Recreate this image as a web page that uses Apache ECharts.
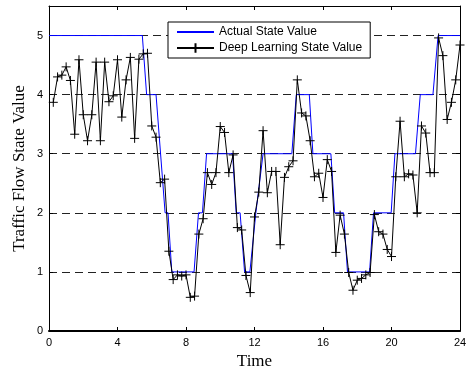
<!DOCTYPE html>
<html>
<head>
<meta charset="utf-8">
<script src="https://cdn.jsdelivr.net/npm/echarts@6/dist/echarts.min.js"></script>
<style>
  html, body { margin: 0; padding: 0; background: #fff; }
  #chart { width: 468px; height: 373px; }
</style>
</head>
<body>
<div id="chart"></div>
<script>
// sample times (hours), one every 15 minutes
const hours = [
  0.25, 0.5, 0.75, 1, 1.25, 1.5, 1.75, 2, 2.25, 2.5, 2.75, 3,
  3.25, 3.5, 3.75, 4, 4.25, 4.5, 4.75, 5, 5.25, 5.5, 5.75, 6,
  6.25, 6.5, 6.75, 7, 7.25, 7.5, 7.75, 8, 8.25, 8.5, 8.75, 9,
  9.25, 9.5, 9.75, 10, 10.25, 10.5, 10.75, 11, 11.25, 11.5, 11.75, 12,
  12.25, 12.5, 12.75, 13, 13.25, 13.5, 13.75, 14, 14.25, 14.5, 14.75, 15,
  15.25, 15.5, 15.75, 16, 16.25, 16.5, 16.75, 17, 17.25, 17.5, 17.75, 18,
  18.25, 18.5, 18.75, 19, 19.25, 19.5, 19.75, 20, 20.25, 20.5, 20.75, 21,
  21.25, 21.5, 21.75, 22, 22.25, 22.5, 22.75, 23, 23.25, 23.5, 23.75, 24
];
const predicted = [
  3.87, 4.30, 4.33, 4.47, 4.24, 3.33, 4.59, 3.66, 3.22, 3.66, 4.55, 3.22,
  4.55, 3.88, 3.98, 4.59, 3.62, 4.25, 4.63, 3.26, 4.60, 4.69, 4.70, 3.47,
  3.28, 2.51, 2.57, 1.35, 0.87, 0.95, 0.93, 0.95, 0.57, 0.59, 1.64, 1.90,
  2.68, 2.48, 2.68, 3.46, 3.36, 2.68, 2.98, 1.75, 1.71, 0.94, 0.65, 1.93,
  2.35, 3.39, 2.34, 2.70, 2.70, 1.46, 2.60, 2.78, 2.88, 4.25, 3.69, 3.64,
  3.22, 2.61, 2.67, 2.26, 2.90, 2.70, 1.33, 1.96, 1.64, 0.99, 0.69, 0.86,
  0.89, 0.95, 0.99, 1.97, 1.68, 1.64, 1.38, 1.26, 2.61, 3.55, 2.61, 2.66,
  2.64, 2.00, 3.47, 3.35, 2.68, 2.68, 4.96, 4.66, 3.58, 3.87, 4.25, 4.84
];

// actual state: corner points of the step curve
const actualTime = [
  0, 5.45, 5.7, 6.25, 6.78, 6.95, 7.17, 8.47, 8.73, 8.96, 9.2, 10.72,
  10.93, 11.16, 11.42, 11.73, 12.08, 12.17, 12.5, 14.18, 14.44, 15.2, 15.41, 16.46,
  16.68, 17.2, 17.43, 18.72, 18.95, 19.98, 20.2, 21.4, 21.68, 22.42, 22.72, 24
];
const actualState = [
  5, 5, 4, 4, 2, 2, 1, 1, 2, 2, 3, 3,
  2, 2, 1, 1, 2, 2, 3, 3, 4, 4, 3, 3,
  2, 2, 1, 1, 2, 2, 3, 3, 4, 4, 5, 5
];

const seriesNames = ["Actual State Value", "Deep Learning State Value"];

const chart = echarts.init(document.getElementById("chart"));

const actualData = [];
for (let i = 0; i < actualTime.length; i++) {
  actualData.push([actualTime[i], actualState[i]]);
}
const predictedData = [];
for (let i = 0; i < hours.length; i++) {
  predictedData.push([hours[i], predicted[i]]);
}

const sans = "'Liberation Sans', Arial, sans-serif";
const serif = "'Liberation Serif', 'Times New Roman', serif";

// plain axis used for the top / right edges of the box
function frameAxis(pos, max, interval) {
  return {
    type: "value",
    position: pos,
    min: 0,
    max: max,
    interval: interval,
    axisLine: { onZero: false, lineStyle: { color: "#000", width: 1 } },
    axisTick: { inside: true, length: 4, lineStyle: { color: "#000" } },
    axisLabel: { show: false },
    splitLine: { show: false },
  };
}

const option = {
  animation: false,
  backgroundColor: "#fff",
  grid: { left: 49, right: 8, top: 6, bottom: 42, outerBoundsMode: "none" },
  legend: {
    data: seriesNames,
    orient: "vertical",
    left: 168,
    top: 22,
    padding: [4, 8, 4, 8],
    itemGap: 4,
    itemWidth: 37,
    itemHeight: 12,
    backgroundColor: "#fff",
    borderColor: "#000",
    borderWidth: 1,
    borderRadius: 0,
    textStyle: { fontFamily: sans, fontSize: 12, color: "#000" },
  },
  xAxis: [
    {
      type: "value",
      position: "bottom",
      min: 0,
      max: 24,
      interval: 4,
      name: "Time",
      nameLocation: "middle",
      nameGap: 22,
      nameTextStyle: { fontFamily: serif, fontSize: 17, color: "#000" },
      axisLine: { onZero: false, lineStyle: { color: "#000", width: 2 } },
      axisTick: { inside: true, length: 4, lineStyle: { color: "#000" } },
      axisLabel: { fontFamily: sans, fontSize: 11, color: "#000", margin: 6 },
      splitLine: { show: false },
    },
    frameAxis("top", 24, 4),
  ],
  yAxis: [
    {
      type: "value",
      position: "left",
      min: 0,
      max: 5.5,
      interval: 1,
      name: "Traffic Flow State Value",
      nameLocation: "middle",
      nameGap: 21,
      nameMoveOverlap: false,
      nameTextStyle: { fontFamily: serif, fontSize: 17, color: "#000" },
      axisLine: { onZero: false, lineStyle: { color: "#000", width: 1 } },
      axisTick: { inside: true, length: 4, lineStyle: { color: "#000" } },
      axisLabel: {
        fontFamily: sans,
        fontSize: 11,
        color: "#000",
        margin: 6,
        formatter: (v) => (v % 1 === 0 ? String(v) : ""),
      },
      splitLine: {
        show: true,
        lineStyle: { color: "#222", width: 1, type: [8, 5] },
      },
    },
    frameAxis("right", 5.5, 1),
  ],
  series: [
    {
      name: seriesNames[0],
      type: "line",
      xAxisIndex: 0,
      yAxisIndex: 0,
      symbol: "circle",
      showSymbol: false,
      lineStyle: { color: "#0000ff", width: 1 },
      // transparent so the legend shows only the line
      itemStyle: { color: "transparent" },
      data: actualData,
    },
    {
      name: seriesNames[1],
      type: "line",
      xAxisIndex: 0,
      yAxisIndex: 0,
      symbol: "path://M0,5L10,5M5,0L5,10",
      symbolSize: 9,
      showAllSymbol: true,
      lineStyle: { color: "#000", width: 1 },
      itemStyle: { color: "transparent", borderColor: "#000", borderWidth: 1 },
      data: predictedData,
    },
  ],
};

chart.setOption(option);
</script>
</body>
</html>
